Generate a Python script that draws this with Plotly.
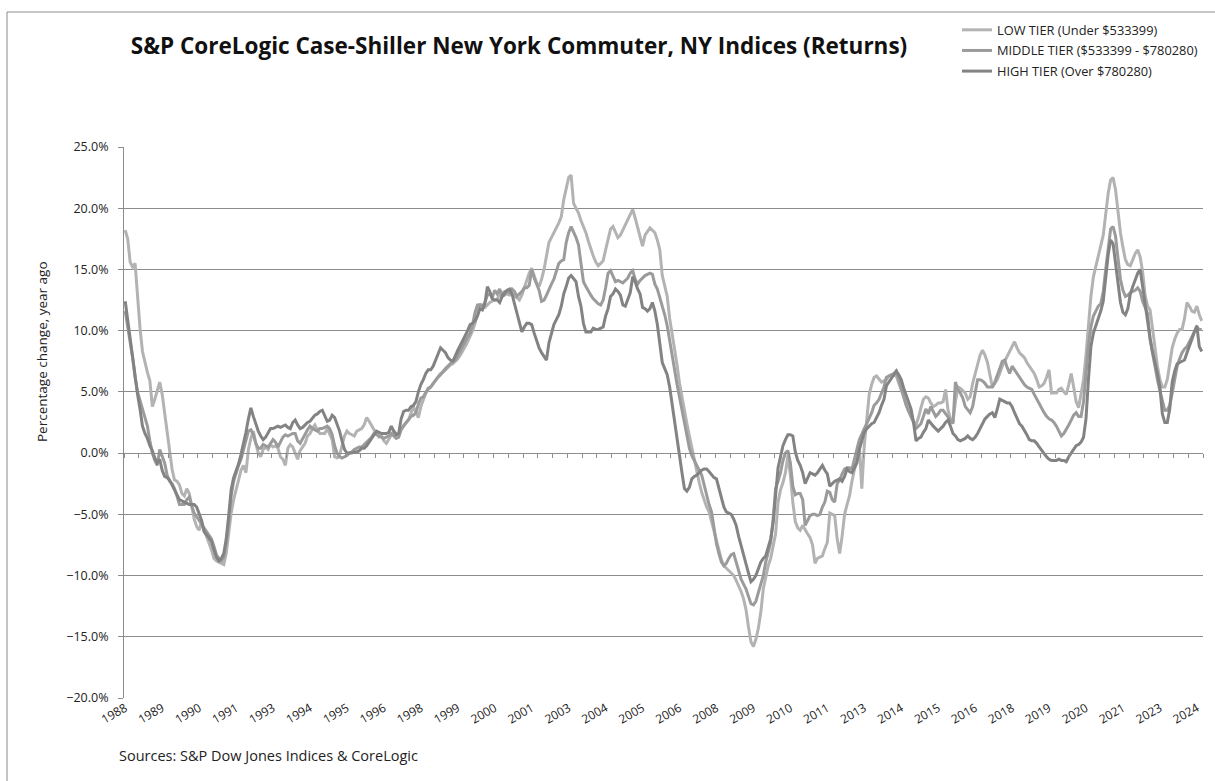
import plotly.graph_objects as go

# Monthly year-over-year returns (%), Jan 1988 - Jun 2024
low_tier = [
    18.2, 17.5, 15.6, 15.2, 15.5, 12.6, 10.2, 8.3, 7.4, 6.6, 5.9, 3.8,   # 1988
    4.4, 5.2, 5.8, 4.8, 3.3, 1.6, 0.1, -1.3, -2.2, -2.3, -2.6, -3.3,    # 1989
    -3.5, -2.9, -3.3, -4.3, -5.4, -6.0, -6.3, -5.6, -6.4, -6.8, -7.3, -7.9,  # 1990
    -8.6, -8.8, -8.9, -9.0, -9.1, -8.2, -6.5, -4.9, -3.8, -2.9, -2.2, -1.4,  # 1991
    -1.0, -1.6, 0.3, 1.2, 1.8, 0.8, 0.0, -0.3, 0.3, 0.5, 0.3, 0.7,     # 1992
    0.5, 0.6, 0.4, -0.3, -0.5, -1.0, 0.4, 0.7, 0.5, 0.0, -0.5, 0.2,    # 1993
    0.5, 0.8, 1.4, 1.6, 2.0, 2.3, 1.9, 1.6, 1.6, 1.6, 2.0, 1.5,        # 1994
    1.1, -0.3, -0.4, -0.2, 0.5, 1.4, 1.8, 1.6, 1.5, 1.4, 1.8, 1.9,     # 1995
    2.0, 2.3, 2.9, 2.6, 2.2, 1.9, 1.6, 1.3, 1.4, 1.0, 0.8, 1.1,        # 1996
    1.4, 1.8, 1.6, 1.5, 2.0, 2.3, 2.5, 2.7, 3.2, 3.8, 3.3, 2.9,        # 1997
    3.8, 4.4, 4.9, 5.2, 5.4, 5.7, 6.0, 6.3, 6.5, 6.6, 6.8, 7.0,        # 1998
    7.2, 7.3, 7.5, 7.7, 8.0, 8.3, 8.7, 9.1, 9.5, 10.0, 10.6, 11.4,     # 1999
    12.2, 12.0, 11.9, 12.1, 12.3, 12.4, 12.5, 12.6, 12.9, 13.1, 13.2, 13.0,  # 2000
    12.9, 13.0, 12.8, 12.7, 12.5, 12.9, 13.5, 14.2, 14.7, 15.1, 14.4, 13.9,  # 2001
    13.6, 14.2, 15.0, 16.1, 17.2, 17.6, 18.0, 18.3, 18.8, 19.3, 20.7, 21.6,  # 2002
    22.5, 22.7, 20.4, 20.0, 19.6, 19.0, 18.5, 18.0, 17.3, 16.6, 16.1, 15.6,  # 2003
    15.3, 15.5, 15.7, 16.6, 17.6, 18.3, 18.5, 18.0, 17.6, 17.8, 18.2, 18.7,  # 2004
    19.1, 19.5, 19.9, 19.2, 18.5, 17.7, 16.9, 17.8, 18.1, 18.4, 18.2, 18.0,  # 2005
    17.4, 16.6, 14.5, 13.5, 12.8, 11.0, 9.8, 8.6, 7.2, 5.7, 4.5, 3.4,        # 2006
    2.4, 1.4, 0.4, -0.6, -1.5, -2.4, -3.2, -3.9, -4.4, -4.8, -5.6, -6.3,     # 2007
    -7.3, -8.1, -8.7, -9.2, -9.4, -9.6, -9.8, -10.0, -10.4, -10.8, -11.3, -11.9,  # 2008
    -12.8, -14.2, -15.4, -15.8, -15.2, -14.3, -13.0, -11.1, -10.0, -9.2, -8.6, -7.6,  # 2009
    -6.6, -4.0, -3.0, -2.4, -1.6, -0.2, -1.8, -4.0, -5.6, -6.1, -6.3, -5.9,  # 2010
    -6.3, -6.6, -6.9, -7.5, -9.0, -8.6, -8.5, -8.4, -7.8, -7.3, -4.9, -5.0,  # 2011
    -5.1, -7.0, -8.2, -6.8, -5.0, -4.2, -3.5, -2.3, -1.2, -0.4, 0.6, -2.9,   # 2012
    0.6, 2.8, 4.8, 5.6, 6.2, 6.3, 6.0, 5.8, 5.9, 6.0, 6.3, 6.4,        # 2013
    6.4, 6.3, 5.7, 5.2, 4.6, 4.0, 3.5, 3.0, 2.6, 2.3, 2.9, 3.7,        # 2014
    4.4, 4.6, 4.5, 4.1, 3.8, 3.9, 4.1, 4.1, 4.2, 5.2, 3.5, 2.8,        # 2015
    2.5, 4.2, 5.4, 5.3, 5.1, 4.9, 4.4, 4.6, 5.7, 6.5, 7.4, 8.0,        # 2016
    8.4, 8.0, 7.4, 6.4, 5.4, 5.7, 6.0, 6.5, 7.1, 7.5, 7.9, 8.4,        # 2017
    8.8, 9.1, 8.6, 8.2, 8.0, 7.8, 7.4, 7.1, 6.8, 6.5, 6.0, 5.4,        # 2018
    5.5, 5.7, 6.2, 6.8, 4.9, 4.9, 4.9, 5.2, 5.3, 5.0, 4.8, 5.6,        # 2019
    6.5, 5.4, 4.2, 3.7, 4.9, 6.0, 8.0, 10.5, 12.8, 14.4, 15.2, 16.0,   # 2020
    16.8, 17.8, 19.5, 21.2, 22.3, 22.5, 21.5, 19.6, 18.0, 16.8, 15.8, 15.4,  # 2021
    15.3, 15.8, 16.3, 16.6, 16.0, 14.8, 12.9, 12.0, 11.7, 10.2, 8.5, 7.1,    # 2022
    6.0, 5.4, 5.4, 6.0, 7.3, 8.6, 9.3, 9.8, 10.1, 10.1, 11.0, 12.3,    # 2023
    12.0, 11.6, 11.5, 12.0, 11.3, 10.8,                                 # 2024
]

middle_tier = [
    11.6, 10.4, 9.0, 7.8, 6.2, 5.0, 4.3, 3.6, 3.1, 2.2, 1.0, 0.0,      # 1988
    -0.6, -1.0, 0.3, -0.2, -0.8, -1.8, -2.3, -2.5, -2.9, -3.5, -4.2, -4.2,  # 1989
    -4.2, -3.8, -3.6, -4.3, -4.9, -5.2, -5.5, -5.8, -6.2, -6.5, -6.7, -7.0,  # 1990
    -7.6, -8.3, -8.6, -8.8, -8.5, -7.3, -5.6, -3.5, -2.3, -1.6, -1.0, -0.5,  # 1991
    0.3, 0.9, 1.8, 1.9, 1.5, 0.8, 0.4, 0.4, 0.7, 0.6, 0.5, 0.8,        # 1992
    1.1, 0.9, 0.5, 0.9, 1.3, 1.5, 1.4, 1.5, 1.6, 1.6, 1.0, 0.8,        # 1993
    1.2, 1.6, 1.9, 2.2, 2.0, 1.9, 1.8, 2.0, 2.0, 2.1, 2.2, 2.0,        # 1994
    1.5, 0.6, 0.0, -0.3, -0.4, -0.3, -0.2, 0.0, 0.1, 0.3, 0.4, 0.5,    # 1995
    0.5, 0.7, 0.9, 1.1, 1.3, 1.6, 1.5, 1.4, 1.3, 1.2, 1.3, 1.4,        # 1996
    1.6, 1.4, 1.2, 1.3, 1.9, 2.2, 2.5, 2.8, 3.0, 3.1, 3.3, 4.0,        # 1997
    4.5, 4.6, 5.0, 5.3, 5.4, 5.7, 6.0, 6.2, 6.4, 6.7, 6.9, 7.1,        # 1998
    7.3, 7.5, 7.6, 8.0, 8.3, 8.7, 9.1, 9.5, 9.8, 10.5, 11.5, 12.1,     # 1999
    12.1, 12.0, 12.3, 12.9, 13.0, 12.7, 13.3, 13.0, 13.4, 12.8, 12.9, 13.2,  # 2000
    13.1, 13.4, 13.2, 12.8, 13.0, 13.2, 13.5, 13.5, 13.7, 15.0, 14.3, 13.8,  # 2001
    13.3, 12.4, 12.5, 12.9, 13.4, 13.8, 14.2, 14.8, 15.5, 15.7, 15.8, 17.2,  # 2002
    18.0, 18.5, 18.1, 17.6, 17.0, 15.5, 14.0, 13.6, 13.2, 12.9, 12.6, 12.4,  # 2003
    12.2, 12.1, 12.5, 13.5, 14.7, 14.9, 14.5, 14.0, 14.1, 14.0, 13.9, 14.1,  # 2004
    14.3, 14.7, 14.9, 14.2, 13.8, 14.1, 14.3, 14.5, 14.6, 14.7, 14.6, 13.8,  # 2005
    13.4, 12.7, 12.2, 11.3, 10.4, 9.3, 8.0, 6.8, 5.6, 4.5, 3.6, 2.6,         # 2006
    1.3, 0.4, -0.2, -0.6, -1.0, -1.4, -1.8, -2.6, -3.5, -4.2, -4.8, -6.2,    # 2007
    -7.4, -8.2, -8.9, -9.2, -9.0, -8.6, -8.3, -8.2, -8.9, -9.6, -10.3, -10.7,  # 2008
    -11.1, -11.7, -12.3, -12.4, -12.1, -11.4, -10.6, -10.0, -8.9, -8.0, -7.3, -5.4,  # 2009
    -2.9, -2.3, -1.6, -0.6, 0.0, 0.2, -0.8, -2.7, -3.4, -3.3, -3.3, -3.8,    # 2010
    -5.9, -5.5, -5.1, -5.0, -5.0, -5.1, -5.0, -4.4, -4.0, -3.1, -3.2, -3.8,  # 2011
    -4.0, -2.5, -2.2, -1.7, -1.3, -1.2, -1.2, -1.3, -0.6, 0.3, 1.1, 1.6,     # 2012
    2.0, 2.4, 2.8, 3.3, 3.9, 4.1, 4.4, 4.9, 5.4, 6.2, 6.3, 6.4,        # 2013
    6.5, 6.7, 6.0, 5.2, 4.6, 3.9, 3.4, 3.0, 2.5, 2.0, 2.2, 2.4,        # 2014
    3.0, 3.6, 3.2, 3.8, 3.4, 3.0, 3.2, 3.5, 3.5, 3.2, 3.0, 2.7,        # 2015
    2.4, 5.8, 5.2, 4.9, 4.5, 3.8, 3.5, 3.3, 3.8, 5.0, 6.0, 6.0,        # 2016
    5.9, 5.7, 5.4, 5.4, 5.4, 5.8, 6.3, 6.9, 7.5, 7.6, 7.0, 6.5,        # 2017
    7.1, 6.8, 6.4, 6.1, 5.9, 5.6, 5.4, 5.3, 5.2, 4.8, 4.4, 4.0,        # 2018
    3.7, 3.3, 3.0, 2.8, 2.7, 2.5, 2.2, 1.8, 1.4, 1.6, 1.9, 2.3,        # 2019
    2.7, 3.1, 3.3, 3.0, 3.0, 4.2, 6.5, 8.8, 10.3, 11.2, 11.6, 12.0,    # 2020
    12.2, 13.2, 15.0, 16.8, 18.3, 18.5, 17.7, 15.9, 14.2, 13.3, 12.8, 12.9,  # 2021
    13.1, 13.2, 13.3, 13.5, 13.2, 12.4, 11.9, 11.4, 9.3, 8.1, 7.1, 6.0,      # 2022
    5.1, 4.2, 3.5, 3.5, 3.9, 4.9, 5.9, 7.1, 7.7, 8.2, 8.5, 8.7,        # 2023
    9.1, 9.5, 10.0, 10.3, 10.1, 10.1,                                   # 2024
]

high_tier = [
    12.4, 10.8, 9.3, 7.6, 6.0, 4.8, 3.6, 2.2, 1.6, 1.2, 0.6, 0.2,      # 1988
    -0.4, -0.8, -0.5, -1.4, -1.9, -2.0, -2.2, -2.6, -3.0, -3.3, -3.8, -3.9,  # 1989
    -4.0, -4.1, -4.2, -4.2, -4.2, -4.4, -4.9, -5.5, -6.4, -6.7, -6.9, -7.2,  # 1990
    -7.9, -8.5, -8.8, -8.6, -8.2, -7.0, -5.1, -3.0, -2.0, -1.5, -0.9, -0.1,  # 1991
    0.7, 1.7, 2.8, 3.7, 3.0, 2.3, 1.8, 1.4, 1.1, 1.3, 1.6, 2.0,        # 1992
    2.0, 2.1, 2.2, 2.1, 2.2, 2.3, 2.1, 2.0, 2.5, 2.7, 2.3, 2.0,        # 1993
    2.1, 2.3, 2.5, 2.6, 2.9, 3.1, 3.2, 3.4, 3.5, 3.0, 2.6, 2.7,        # 1994
    3.1, 2.9, 2.3, 1.8, 1.0, 0.3, 0.0, 0.0, 0.0, 0.1, 0.1, 0.2,        # 1995
    0.4, 0.4, 0.6, 0.9, 1.2, 1.5, 1.8, 1.7, 1.6, 1.6, 1.6, 1.7,        # 1996
    2.2, 1.8, 1.5, 1.6, 2.8, 3.4, 3.5, 3.5, 3.8, 3.9, 4.2, 5.0,        # 1997
    5.6, 6.0, 6.5, 6.8, 6.8, 7.1, 7.6, 8.0, 8.6, 8.4, 8.2, 7.8,        # 1998
    7.6, 7.5, 8.0, 8.4, 8.8, 9.2, 9.5, 10.0, 10.5, 10.6, 10.8, 11.2,   # 1999
    11.8, 11.7, 12.2, 13.6, 13.2, 12.6, 12.5, 12.5, 12.3, 12.8, 13.1, 13.3,  # 2000
    13.4, 13.0, 12.2, 11.4, 10.5, 9.9, 10.3, 10.6, 10.6, 10.5, 9.8, 9.1,     # 2001
    8.6, 8.2, 7.9, 7.6, 9.0, 9.8, 10.5, 10.9, 11.3, 12.0, 13.0, 13.6,        # 2002
    14.3, 14.5, 14.2, 14.0, 12.8, 12.0, 10.6, 9.9, 9.9, 9.9, 10.2, 10.1,     # 2003
    10.1, 10.2, 10.3, 11.2, 11.8, 12.8, 13.0, 13.4, 13.2, 12.9, 12.1, 12.0,  # 2004
    12.6, 13.1, 14.4, 14.0, 13.4, 13.0, 11.9, 11.8, 11.6, 11.8, 12.3, 11.6,  # 2005
    10.5, 8.8, 7.4, 6.9, 6.4, 5.4, 3.9, 2.5, 1.0, -0.2, -1.6, -2.9,          # 2006
    -3.1, -2.8, -2.1, -1.9, -1.8, -1.6, -1.4, -1.3, -1.3, -1.5, -1.8, -2.0,  # 2007
    -2.1, -2.9, -3.8, -4.4, -4.8, -4.9, -5.0, -5.4, -5.9, -6.8, -7.6, -8.4,  # 2008
    -9.2, -9.8, -10.5, -10.3, -10.0, -9.4, -8.9, -8.6, -8.4, -7.7, -7.0, -5.7,  # 2009
    -3.5, -1.2, -0.3, 0.6, 1.1, 1.5, 1.5, 1.4, 0.1, -0.6, -1.0, -1.6,        # 2010
    -2.5, -2.0, -1.6, -1.7, -1.8, -1.6, -1.3, -1.0, -1.4, -1.7, -2.7, -2.5,  # 2011
    -2.3, -2.2, -2.1, -2.3, -1.9, -1.3, -1.5, -1.6, -1.2, -0.8, 0.3, 1.0,    # 2012
    1.7, 2.0, 2.2, 2.4, 2.5, 2.9, 3.3, 3.9, 4.4, 5.5, 5.8, 6.0,        # 2013
    6.3, 6.7, 6.4, 6.0, 5.3, 4.7, 4.1, 3.6, 2.5, 1.0, 1.2, 1.3,        # 2014
    1.7, 2.0, 2.7, 2.4, 2.2, 2.0, 1.8, 2.0, 2.2, 2.5, 2.7, 2.2,        # 2015
    1.6, 1.4, 1.1, 1.0, 1.1, 1.2, 1.4, 1.2, 1.1, 1.3, 1.6, 2.0,        # 2016
    2.4, 2.8, 3.0, 3.2, 3.3, 2.9, 3.6, 4.4, 4.3, 4.2, 4.1, 4.1,        # 2017
    3.8, 3.3, 2.8, 2.4, 2.2, 1.9, 1.5, 1.1, 1.0, 1.0, 0.8, 0.5,        # 2018
    0.2, 0.0, -0.3, -0.5, -0.6, -0.6, -0.6, -0.5, -0.6, -0.6, -0.7, -0.3,  # 2019
    0.0, 0.4, 0.6, 0.7, 0.9, 1.3, 2.8, 6.0, 8.7, 9.8, 10.4, 11.0,      # 2020
    11.6, 12.4, 14.2, 16.2, 17.4, 17.1, 15.5, 13.8, 12.3, 11.5, 11.3, 11.8,  # 2021
    13.0, 13.6, 14.2, 14.7, 15.0, 13.6, 12.0, 10.4, 9.4, 8.3, 7.5, 6.5,      # 2022
    5.4, 3.2, 2.5, 2.5, 3.6, 5.8, 6.7, 7.3, 7.4, 7.5, 7.6, 8.2,        # 2023
    8.7, 9.3, 9.9, 10.4, 8.7, 8.3,                                      # 2024
]

series_names = [
    "LOW TIER (Under $533399)",
    "MIDDLE TIER ($533399 - $780280)",
    "HIGH TIER (Over $780280)",
]
series_colors = ["#b3b3b3", "#9b9b9b", "#838383"]

tick_labels = ["1988", "1989", "1990", "1991", "1993", "1994", "1995", "1996",
               "1998", "1999", "2000", "2001", "2003", "2004", "2005", "2006",
               "2008", "2009", "2010", "2011", "2013", "2014", "2015", "2016",
               "2018", "2019", "2020", "2021", "2023", "2024"]
label_step = 15   # months between axis labels
tick_step = 6     # months between tick marks

n = len(low_tier)
months = list(range(n))

W, H = 1215, 781
L, R, T, B = 124, 12, 147, 83
pw, ph = W - L - R, H - T - B

def px_x(x):
    return (x - L) / pw

def px_y(y):
    return (H - B - y) / ph

FONT = "'Open Sans', sans-serif"

fig = go.Figure()
for name, vals, col in zip(series_names, [low_tier, middle_tier, high_tier], series_colors):
    fig.add_trace(go.Scatter(
        x=months, y=vals, mode="lines", name=name, legendgroup=name,
        line=dict(color=col, width=3), hoverinfo="skip",
    ))
# invisible trace for the category axis crossing at 0
fig.add_trace(go.Scatter(x=[], y=[], xaxis="x2", yaxis="y", showlegend=False,
                         hoverinfo="skip"))

xr = [-0.5, n - 0.5]
ymin, ymax = -20, 25
fig.update_layout(
    width=W, height=H,
    margin=dict(l=L, r=R, t=T, b=B),
    paper_bgcolor="white", plot_bgcolor="white",
    font=dict(family=FONT, size=13, color="#222222"),
    title=dict(text="<b>S&P CoreLogic Case-Shiller New York Commuter, NY Indices (Returns)</b>",
               x=519 / W, xanchor="center", y=1 - 46 / H, yanchor="middle",
               font=dict(family=FONT, size=22.5, color="#111111")),
    xaxis=dict(range=xr, tickmode="array",
               tickvals=[k * label_step for k in range(len(tick_labels))],
               ticktext=tick_labels, tickangle=-30, showgrid=False,
               showline=False, ticks="", zeroline=False,
               tickfont=dict(size=12, color="#222222")),
    xaxis2=dict(range=xr, overlaying="x", anchor="free",
                position=(0 - ymin) / (ymax - ymin),
                showline=True, linecolor="#8c8c8c", linewidth=1,
                ticks="outside", ticklen=4, tickcolor="#8c8c8c", tickwidth=1,
                tickmode="array",
                tickvals=[k * tick_step - 0.5 for k in range(int(n / tick_step) + 1)],
                showticklabels=False, showgrid=False, zeroline=False),
    yaxis=dict(range=[ymin, ymax], dtick=5, tick0=0, tickformat=".1f", ticksuffix="%",
               showgrid=True, gridcolor="#8c8c8c", gridwidth=1,
               showline=True, linecolor="#8c8c8c", linewidth=1,
               ticks="outside", ticklen=5, tickcolor="#8c8c8c",
               ticklabelstandoff=7,
               zeroline=False, tickfont=dict(size=12.5, color="#222222")),
    legend=dict(x=px_x(957), y=px_y(15), xanchor="left", yanchor="top",
                bgcolor="rgba(0,0,0,0)", font=dict(size=12.8, color="#222222"),
                tracegroupgap=1, itemwidth=30),
    showlegend=True,
)

fig.add_annotation(text="Percentage change, year ago", textangle=-90,
                   x=px_x(42), y=px_y(352), xref="paper", yref="paper",
                   xanchor="center", yanchor="middle",
                   showarrow=False, font=dict(size=13.5, color="#222222"))
fig.add_annotation(text="Sources: S&P Dow Jones Indices & CoreLogic",
                   x=px_x(117), y=px_y(755), xref="paper", yref="paper",
                   xanchor="left", yanchor="middle", showarrow=False,
                   font=dict(size=14.5, color="#222222"))
# chart border
fig.add_shape(type="rect", xref="paper", yref="paper",
              x0=px_x(7), x1=px_x(1230), y0=px_y(800), y1=px_y(12),
              line=dict(color="#8c8c8c", width=1), fillcolor="rgba(0,0,0,0)",
              layer="below")

fig.write_html("out.html", config={"displayModeBar": False},
               post_script="document.body.style.margin='0';document.body.style.overflow='hidden';")
